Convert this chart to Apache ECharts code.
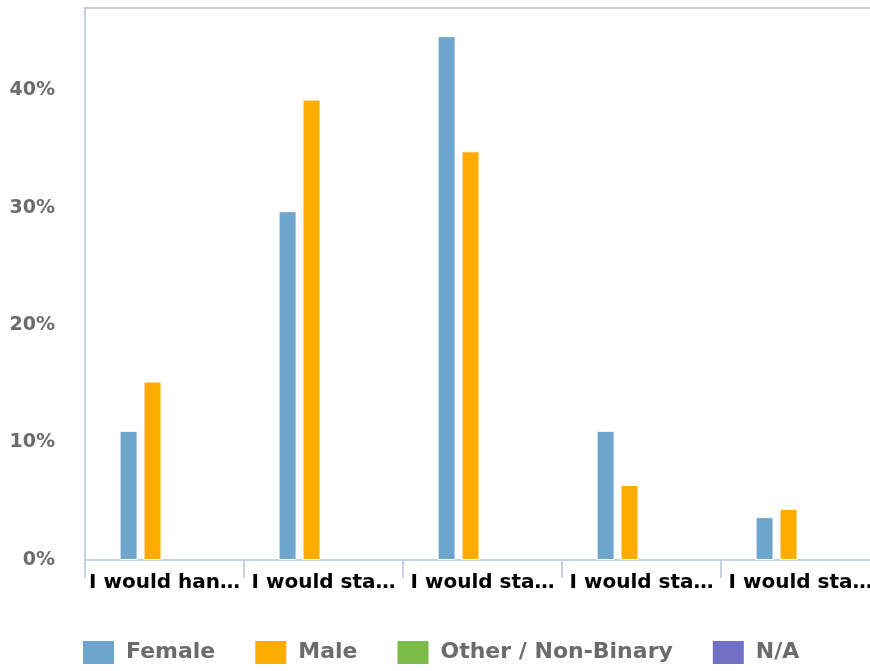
<!DOCTYPE html>
<html>
<head>
<meta charset="utf-8">
<script src="https://cdn.jsdelivr.net/npm/echarts@6/dist/echarts.min.js"></script>
<style>
html,body{margin:0;padding:0;background:#fff;}
#chart{width:870px;height:671px;}
</style>
</head>
<body>
<div id="chart"></div>
<script>
var categories = ["I would han\u2026", "I would sta\u2026", "I would sta\u2026", "I would sta\u2026", "I would sta\u2026"];
var seriesNames = ["Female", "Male", "Other / Non-Binary", "N/A"];
var female = [11.0, 29.7, 44.6, 11.0, 3.65];
var male = [15.2, 39.2, 34.8, 6.4, 4.35];
var other = ['-', '-', '-', '-', '-'];
var na = ['-', '-', '-', '-', '-'];
var yTicks = [0, 10, 20, 30, 40];

var colors = ['#6EA5CD', '#FFAB00', '#7CBB48', '#7070C4'];
var font = 'DejaVu Sans, Verdana, sans-serif';
var chart = echarts.init(document.getElementById('chart'), null, {renderer: 'canvas'});
var seriesData = [female, male, other, na];
var option = {
  animation: false,
  color: colors,
  grid: {left: 85, top: 8, width: 795, bottom: 111, containLabel: false, outerBoundsMode: 'none'},
  legend: {
    left: 76, top: 634,
    itemWidth: 33, itemHeight: 25, itemGap: 38,
    icon: 'rect',
    data: seriesNames,
    textStyle: {fontFamily: font, fontSize: 22, fontWeight: 'bold', color: '#6b6b6b', padding: [0, 0, 0, 6]}
  },
  xAxis: [{
    type: 'category',
    data: categories,
    axisLine: {lineStyle: {color: '#C3D1E2', width: 2}},
    axisTick: {show: true, length: 18, lineStyle: {color: '#C3D1E2', width: 2}},
    axisLabel: {interval: 0, margin: 13, fontFamily: font, fontSize: 20, fontWeight: 'bold', color: '#000'},
    splitLine: {show: false}
  }, {
    type: 'category',
    position: 'top',
    data: categories,
    axisLine: {show: true, lineStyle: {color: '#cccccc', width: 2}},
    axisTick: {show: false},
    axisLabel: {show: false}
  }],
  yAxis: {
    type: 'value',
    min: yTicks[0], max: 47, interval: 10,
    axisLine: {show: true, lineStyle: {color: '#C3D1E2', width: 2}},
    axisTick: {show: false},
    splitLine: {show: false},
    axisLabel: {
      margin: 30, showMaxLabel: false,
      fontFamily: font, fontSize: 19, fontWeight: 'bold', color: '#6b6b6b',
      formatter: function (v) { return yTicks.indexOf(v) >= 0 ? v + '%' : ''; }
    }
  },
  series: seriesNames.map(function (n, i) {
    return {
      name: n, type: 'bar', data: seriesData[i],
      barWidth: 18, barGap: '33%',
      itemStyle: {borderColor: '#fff', borderWidth: 1}
    };
  })
};
chart.setOption(option);
</script>
</body>
</html>
